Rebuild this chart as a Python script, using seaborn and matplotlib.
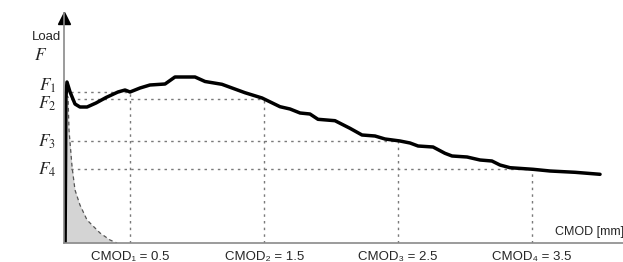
import matplotlib
matplotlib.use("Agg")
import matplotlib.pyplot as plt
import seaborn as sns
import pandas as pd

# load–CMOD curve (CMOD in mm, load in arbitrary units)
cmod = [0.0, 0.012, 0.018, 0.026, 0.049, 0.086, 0.123, 0.176, 0.243, 0.318, 0.407,
        0.460, 0.497, 0.572, 0.646, 0.759, 0.833, 0.983, 1.058, 1.184, 1.356,
        1.484, 1.618, 1.693, 1.768, 1.842, 1.902, 2.029, 2.141, 2.231, 2.328,
        2.403, 2.515, 2.590, 2.650, 2.762, 2.851, 2.904, 3.016, 3.113, 3.202,
        3.262, 3.337, 3.509, 3.636, 3.823, 4.010]
load = [0.0, 0.0, 14.5, 16.1, 15.1, 13.9, 13.6, 13.6, 14.0, 14.55, 15.1,
        15.3, 15.1, 15.5, 15.8, 15.9, 16.6, 16.6, 16.15, 15.87, 15.03,
        14.5, 13.63, 13.4, 13.0, 12.9, 12.37, 12.23, 11.47, 10.8, 10.7,
        10.4, 10.2, 10.0, 9.7, 9.6, 8.97, 8.7, 8.6, 8.3, 8.2,
        7.8, 7.53, 7.37, 7.2, 7.07, 6.87]

# grey shaded area (elastic part)
shade_x = [0.01, 0.019, 0.034, 0.041, 0.064, 0.086, 0.123, 0.176, 0.273, 0.348, 0.40]
shade_y = [0.0, 14.8, 14.6, 11.3, 7.6, 5.3, 3.8, 2.3, 1.0, 0.3, 0.0]

cmod_ref = [0.5, 1.5, 2.5, 3.5]
f_ref = [15.1, 14.4, 10.2, 7.4]
f_names = [r"$F_1$", r"$F_2$", r"$F_3$", r"$F_4$"]
f_label_y = [15.7, 13.9, 10.1, 7.3]
cmod_labels = ["CMOD\u2081 = 0.5", "CMOD\u2082 = 1.5", "CMOD\u2083 = 2.5", "CMOD\u2084 = 3.5"]

df = pd.DataFrame({"cmod": cmod, "load": load})

sns.set_style("white")
plt.rcParams["font.family"] = ["Liberation Sans", "DejaVu Sans"]
plt.rcParams["mathtext.fontset"] = "stix"

W, H = 623, 262
fig = plt.figure(figsize=(W / 100, H / 100), dpi=100)
x0, y0, ytop = 63.5, 243, 13
ax = fig.add_axes([x0 / W, (H - y0) / H, (W - x0) / W, (y0 - ytop) / H])
ax.set_xlim(0, (W - x0) / 133.8)
ax.set_ylim(0, (y0 - ytop) / 10)

grid_kw = dict(color="#7a7a7a", lw=1.0, ls=(0, (1.8, 3)))
for cx, fy in zip(cmod_ref, f_ref):
    ax.plot([0, cx], [fy, fy], **grid_kw)
    ax.plot([cx, cx], [0, fy], **grid_kw)

ax.fill_between(shade_x, shade_y, 0, color="#d4d4d4", lw=0)
ax.plot(shade_x[1:], shade_y[1:], color="#555555", lw=0.9, ls=(0, (3, 2.5)))

sns.lineplot(data=df, x="cmod", y="load", ax=ax, color="black", lw=2.5,
             sort=False, estimator=None)

for sp in ["top", "right"]:
    ax.spines[sp].set_visible(False)
for sp in ["left", "bottom"]:
    ax.spines[sp].set_color("#8a8a8a")
    ax.spines[sp].set_linewidth(1.2)
ax.set_xticks([])
ax.set_yticks([])
ax.set_xlabel("")
ax.set_ylabel("")

# arrow head on the load axis
ax.plot([0], [ax.get_ylim()[1] - 0.5], marker="^", color="black", ms=8,
        clip_on=False)

for name, fy in zip(f_names, f_label_y):
    ax.text(-0.055, fy, name, ha="right", va="center", fontsize=12.5, clip_on=False)
ax.text(-0.02, 20.6, "Load", ha="right", va="center", fontsize=9.5, clip_on=False)
ax.text(-0.17, 18.8, r"$F$", ha="center", va="center", fontsize=12.5, clip_on=False)

for cx, lab in zip(cmod_ref, cmod_labels):
    ax.text(cx, -1.7, lab, ha="center", va="baseline", fontsize=9.5, clip_on=False)
ax.text(3.67, 1.1, "CMOD [mm]", ha="left", va="center", fontsize=9, clip_on=False)

fig.savefig("out.png", dpi=100)
